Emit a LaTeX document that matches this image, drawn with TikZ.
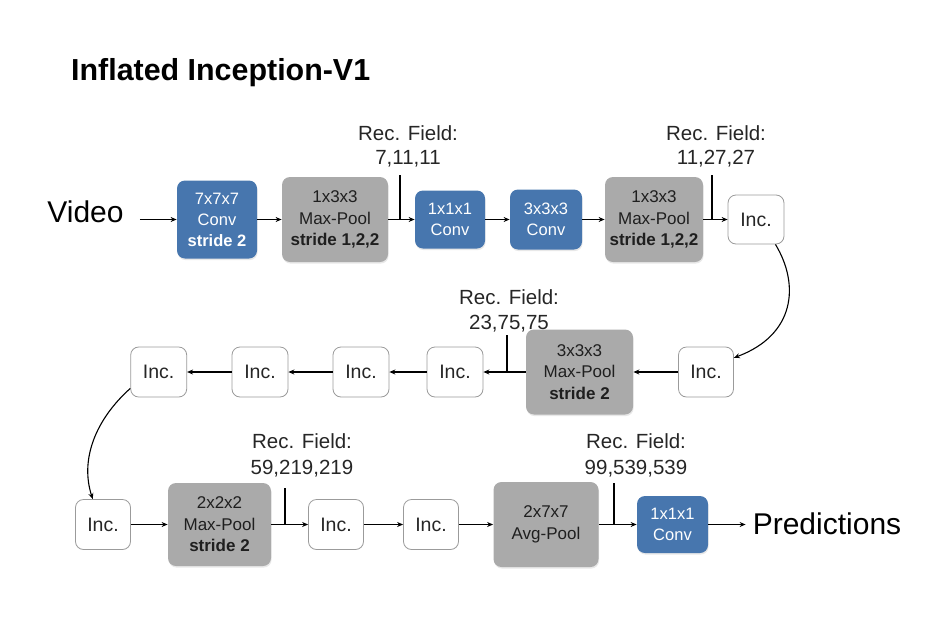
\documentclass[tikz,border=0pt]{standalone}
\usepackage{fontspec}
\setmainfont{Liberation Sans}
\usetikzlibrary{arrows.meta,shadows}
\definecolor{boxblue}{RGB}{71,118,174}
\definecolor{boxgray}{RGB}{170,170,170}
\definecolor{incb}{RGB}{155,155,155}
\begin{document}
\begin{tikzpicture}[x=1pt,y=-1pt,
  basebox/.style={rounded corners=8pt, inner sep=0pt, align=center, line width=0.8pt},
  shade/.style={drop shadow={opacity=0.18, shadow xshift=0.6pt, shadow yshift=-1.6pt}},
  bluebox/.style={basebox, shade, fill=boxblue, text=white, font=\fontsize{16.5}{21}\selectfont},
  graybox/.style={basebox, shade, fill=boxgray, text=black!88, font=\fontsize{17}{21.5}\selectfont},
  incbox/.style={basebox, fill=white, draw=incb, minimum width=55pt, minimum height=50pt, text=black!85, font=\fontsize{19.5}{22}\selectfont},
  arr/.style={-{Stealth[length=6pt,width=5pt]}, line width=1.1pt},
  tick/.style={line width=1.1pt},
  rf/.style={font=\fontsize{20.5}{24}\selectfont, anchor=base, inner sep=0pt, text=black!85},
  big/.style={font=\fontsize{30}{34}\selectfont, anchor=base, inner ysep=0pt}
]
\useasboundingbox (0,0) rectangle (937,616);

% title
\node[anchor=base west, inner sep=0pt, font=\fontsize{30.4}{34}\selectfont\bfseries] (title) at (71,80) {Inflated Inception-V1};

% row 1
\node[big, inner xsep=16pt] (video) at (85.5,222.5) {Video};
\node[bluebox, minimum width=80pt, minimum height=78pt] (b1) at (217,219.5) {7x7x7\\Conv\\\textbf{stride 2}};
\node[graybox, minimum width=106pt, minimum height=85pt] (b2) at (335,219.5) {1x3x3\\Max-Pool\\\textbf{stride 1,2,2}};
\node[bluebox, minimum width=70pt, minimum height=58pt] (b3) at (450,219.5) {1x1x1\\Conv};
\node[bluebox, minimum width=72pt, minimum height=60pt] (b4) at (546,219.5) {3x3x3\\Conv};
\node[graybox, minimum width=98pt, minimum height=85pt] (b5) at (654,219.5) {1x3x3\\Max-Pool\\\textbf{stride 1,2,2}};
\node[incbox, minimum width=56pt, minimum height=49pt] (i1) at (756,219.5) {Inc.};

\node[rf] (rf1a) at (408,140) {Rec. Field:};
\node[rf] (rf1b) at (408,164) {7,11,11};
\node[rf] (rf2a) at (716,140) {Rec. Field:};
\node[rf] (rf2b) at (716,164) {11,27,27};
\coordinate (t1) at (400,175);
\coordinate (t2) at (712,175);

\draw[arr] (video.east |- b1.west) -- (b1.west);
\draw[arr] (b1) -- (b2);
\draw[arr] (b2) -- (b3);
\draw[arr] (b3) -- (b4);
\draw[arr] (b4) -- (b5);
\draw[arr] (b5) -- (i1);
\draw[tick] (t1) -- (t1 |- b2.east);
\draw[tick] (t2) -- (t2 |- b5.east);

% row 2
\node[incbox] (i2) at (706,372) {Inc.};
\node[graybox, minimum width=107pt, minimum height=85pt] (m3) at (579.5,372) {3x3x3\\Max-Pool\\\textbf{stride 2}};
\node[incbox, minimum width=56pt] (i3) at (455,372) {Inc.};
\node[incbox, minimum width=56pt] (i4) at (361,372) {Inc.};
\node[incbox, minimum width=56pt] (i5) at (260,372) {Inc.};
\node[incbox, minimum width=56pt] (i6) at (158.7,372) {Inc.};

\node[rf] (rf3a) at (509,304) {Rec. Field:};
\node[rf] (rf3b) at (509,329) {23,75,75};
\coordinate (t3) at (507,335);

\draw[arr] (i1.-52) .. controls (800,285) and (795,335) .. (i2.27);
\draw[arr] (i2) -- (m3);
\draw[arr] (m3) -- (i3);
\draw[arr] (i3) -- (i4);
\draw[arr] (i4) -- (i5);
\draw[arr] (i5) -- (i6);
\draw[tick] (t3) -- (t3 |- m3.west);

% row 3
\node[incbox] (i7) at (103,524.5) {Inc.};
\node[graybox, minimum width=103pt, minimum height=83pt] (m4) at (219.5,524.5) {2x2x2\\Max-Pool\\\textbf{stride 2}};
\node[incbox] (i8) at (336,524.5) {Inc.};
\node[incbox] (i9) at (431,524.5) {Inc.};
\node[graybox, minimum width=105pt, minimum height=85pt] (ap) at (546,524.5) {2x7x7\\Avg-Pool};
\node[bluebox, minimum width=71pt, minimum height=57pt] (c2) at (672.5,524.5) {1x1x1\\Conv};
\node[big, inner xsep=7pt] (pred) at (827,534) {Predictions};

\node[rf] (rf4a) at (302,448) {Rec. Field:};
\node[rf] (rf4b) at (302,474) {59,219,219};
\node[rf] (rf5a) at (636,448) {Rec. Field:};
\node[rf] (rf5b) at (636,474) {99,539,539};
\coordinate (t4) at (285,488);
\coordinate (t5) at (614,483);

\draw[arr] (i6.210) .. controls (95,420) and (80,460) .. (i7.112);
\draw[arr] (i7) -- (m4);
\draw[arr] (m4) -- (i8);
\draw[arr] (i8) -- (i9);
\draw[arr] (i9) -- (ap);
\draw[arr] (ap) -- (c2);
\draw[arr] (c2.east) -- (pred.west |- c2.east);
\draw[tick] (t4) -- (t4 |- m4.east);
\draw[tick] (t5) -- (t5 |- ap.east);
\end{tikzpicture}
\end{document}
